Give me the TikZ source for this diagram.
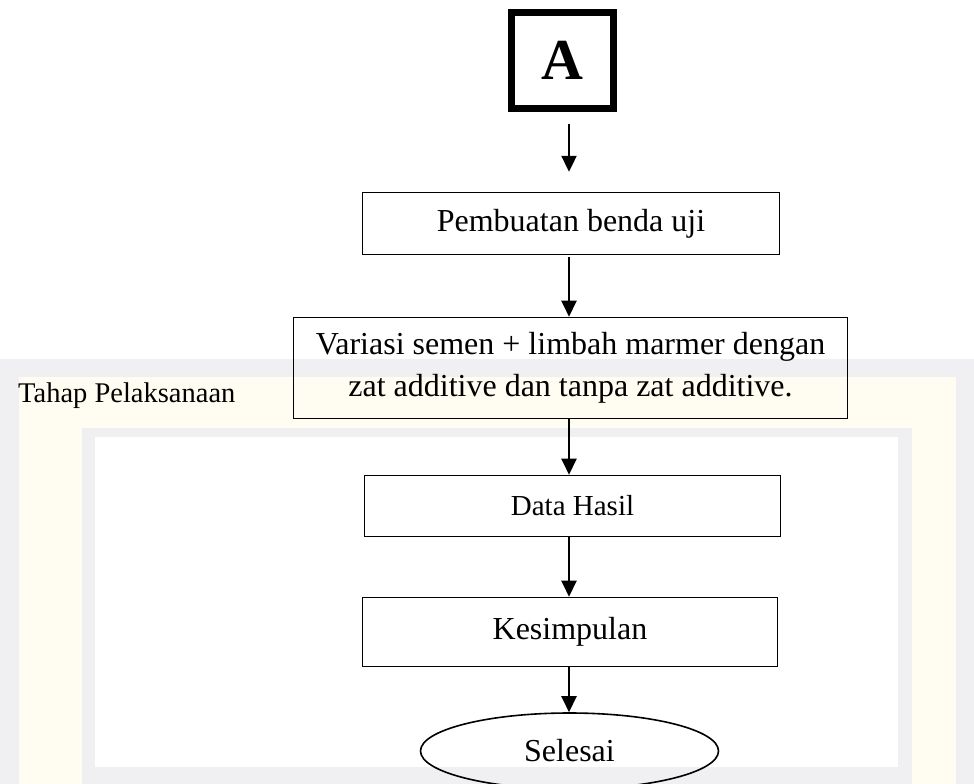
\documentclass[tikz,border=0pt]{standalone}
\usepackage{fontspec}
\setmainfont{Liberation Serif}
\usetikzlibrary{arrows.meta}
\usetikzlibrary{shapes,positioning}

\definecolor{wmgrey}{HTML}{F0F0F2}
\definecolor{wmcream}{HTML}{FFFDF1}

\tikzset{
  stepbox/.style={draw, line width=1.6pt, font=\fontsize{32}{42}\selectfont, align=center, inner sep=0pt},
  flowarrow/.style={line width=2.4pt, -{Triangle[width=15pt,length=16pt]}},
}

\begin{document}
\begin{tikzpicture}[x=1pt,y=-1pt]
    \useasboundingbox (0,0) rectangle (974,784);
    \fill[wmgrey] (0,359) rectangle (974,784);
    \fill[wmcream] (19,377) rectangle (956,784);
    \fill[wmgrey] (82,428) rectangle (912,784);
    \fill[white] (95,437) rectangle (898,767);
    \coordinate (spine) at (569,0);
    \node[draw, line width=6.5pt, minimum width=102pt, minimum height=96pt, font=\fontsize{58}{58}\selectfont\bfseries] (A) at (562.5,60.5) {A};
    \node[stepbox, minimum width=417pt, minimum height=62pt] (pembuatan) at (571,223.5) {Pembuatan benda uji};
    \node[stepbox, minimum width=554pt, minimum height=101pt] (variasi) at (570.5,368) {Variasi semen + limbah marmer dengan\\zat additive dan tanpa zat additive.};
    \node[anchor=base west, font=\fontsize{28.5}{34}\selectfont, inner sep=0pt] (tahap) at (18,402) {Tahap Pelaksanaan};
    \node[stepbox, minimum width=416pt, minimum height=61pt, font=\fontsize{29}{34}\selectfont] (data) at (572.5,506) {Data Hasil};
    \node[stepbox, minimum width=415pt, minimum height=69pt] (kesimpulan) at (570,632) {Kesimpulan};
    \node[stepbox, ellipse, minimum width=298pt, minimum height=76pt] (selesai) at (569.5,751) {Selesai};
    \draw[flowarrow] ([xshift=6.5pt,yshift=-12pt]A.south) -- ++(0,48);
    \draw[flowarrow] ([yshift=-2pt]pembuatan.south -| spine) -- (variasi.north -| spine);
    \draw[flowarrow] (variasi.south -| spine) -- (data.north -| spine);
    \draw[flowarrow] (data.south -| spine) -- (kesimpulan.north -| spine);
    \draw[flowarrow] (kesimpulan.south -| spine) -- (selesai.north -| spine);
\end{tikzpicture}
\end{document}
